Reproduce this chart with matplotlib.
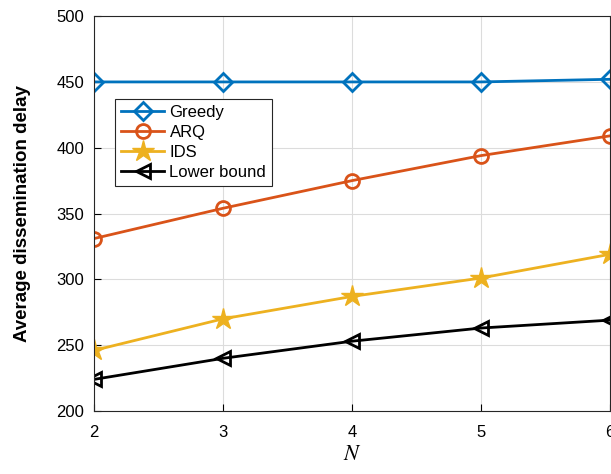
import matplotlib
matplotlib.use("Agg")
import matplotlib.pyplot as plt

plt.rcParams['font.family'] = ['Liberation Sans', 'DejaVu Sans']
plt.rcParams['mathtext.fontset'] = 'stix'

# ==== data ====
N = [2, 3, 4, 5, 6]
greedy = [450, 450, 450, 450, 452]
arq = [331, 354, 375, 394, 409]
ids = [246, 270, 287, 301, 319]
lower_bound = [224, 240, 253, 263, 269]

fig = plt.figure(figsize=(6.11, 4.74), dpi=100)
ax = fig.add_axes([0.154, 0.133, 0.844, 0.833])

ax.plot(N, greedy, '-D', color='#0072BD', lw=2, ms=9, mfc='none', mew=2, label='Greedy')
ax.plot(N, arq, '-o', color='#D95319', lw=2, ms=10, mfc='none', mew=2, label='ARQ')
ax.plot(N, ids, '-*', color='#EDB120', lw=2, ms=16, mew=1, label='IDS')
ax.plot(N, lower_bound, '-<', color='black', lw=2, ms=10, mfc='none', mew=2, label='Lower bound')

ax.set_xlim(2, 6)
ax.set_ylim(200, 500)
ax.set_xticks(N)
ax.set_yticks(range(200, 501, 50))
ax.grid(True, color='#dcdcdc', lw=0.8)
ax.set_axisbelow(True)
ax.tick_params(direction='in', labelsize=12, length=5, width=0.8, pad=7)
ax.tick_params(axis='x', pad=10)
for s in ax.spines.values():
    s.set_linewidth(0.8)
    s.set_color('#262626')

ax.set_xlabel('$N$', fontsize=16, labelpad=3)
ax.set_ylabel('Average dissemination delay', fontsize=13.5, fontweight='bold', labelpad=18)

leg = ax.legend(loc='upper left', bbox_to_anchor=(0.025, 0.81), fontsize=12,
                fancybox=False, edgecolor='#262626', framealpha=1,
                handlelength=2.6, handletextpad=0.3, borderpad=0.35, labelspacing=0.3)
leg.get_frame().set_linewidth(0.8)

plt.savefig('out.png', dpi=100)
